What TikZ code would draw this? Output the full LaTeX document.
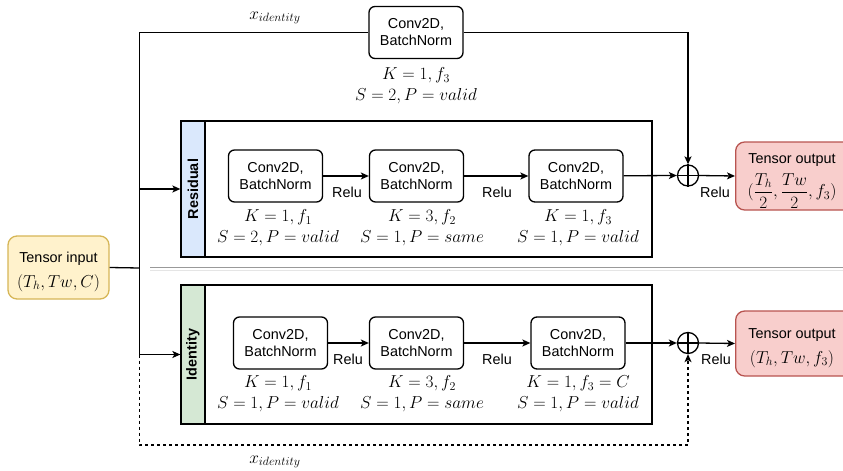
\documentclass[tikz,border=0pt]{standalone}
\usepackage[no-math]{fontspec}
\setmainfont{Liberation Sans}
\usetikzlibrary{arrows.meta}

\definecolor{inFill}{HTML}{FFF2CC}
\definecolor{inLine}{HTML}{D6B656}
\definecolor{outFill}{HTML}{F8CECC}
\definecolor{outLine}{HTML}{B85450}
\definecolor{resFill}{HTML}{DAE8FC}
\definecolor{idFill}{HTML}{D5E8D4}

\newcommand{\txtsize}{\fontsize{14.4}{17}\selectfont}
\newcommand{\mathsz}{\fontsize{17.28}{20}\selectfont}

\tikzset{
  wire/.style={line width=1.3pt},
  arr/.style={wire, -{Stealth[length=8pt,width=7pt,inset=2pt]}},
  convbox/.style={draw, line width=1.3pt, rounded corners=6pt, align=center,
    minimum width=94pt, minimum height=52pt, inner sep=0pt, font=\txtsize},
  params/.style={align=center, inner sep=0pt, font=\mathsz},
  relu/.style={inner sep=0pt, font=\txtsize},
  blockbox/.style={draw, line width=1.3pt, minimum width=471pt, inner sep=0pt},
  strip/.style={draw, line width=1.3pt, minimum width=24pt, inner sep=0pt},
  striptext/.style={rotate=90, font=\txtsize\bfseries, inner sep=0pt},
  tensorbox/.style={draw, line width=1.3pt, rounded corners=9pt, inner sep=0pt},
  tensortext/.style={inner sep=0pt, font=\txtsize},
  sum/.style={draw, circle, line width=1.3pt, minimum size=21pt, inner sep=0pt},
}

\begin{document}
\begin{tikzpicture}[x=1pt,y=-1pt]
\useasboundingbox (0,0) rectangle (843,471);

% input tensor
\node[tensorbox, fill=inFill, draw=inLine, minimum width=101pt, minimum height=63pt]
  (in) at (58.5,267.5) {};
\node[tensortext] (inT) at (58.5,258.5) {Tensor input};
\node[inner sep=0pt, font=\mathsz] (inM) at (58.5,283) {$(T_h,Tw,C)$};

% branch point and routing corner
\coordinate (jn) at (139.5,268);
\coordinate (dl) at (139.5,445);

% shortcut convolution on the top path
\node[convbox] (topconv) at (416,32.5) {Conv2D,\\BatchNorm};
\node[params] (topp) at (416,86) {$K=1, f_3$\\[1pt]$S=2, P=valid$};
\node[font=\mathsz, inner sep=0pt] (xtop) at (275,18) {$x_{identity}$};

% residual block
\node[blockbox, minimum height=136pt] (resbox) at (416.5,189) {};
\node[strip, fill=resFill, minimum height=136pt] (resstrip) at (193,189) {};
\node[striptext] (restext) at (resstrip) {Residual};

\node[convbox] (r1) at (275.5,176) {Conv2D,\\BatchNorm};
\node[convbox] (r2) at (416.5,176) {Conv2D,\\BatchNorm};
\node[convbox] (r3) at (576,176) {Conv2D,\\BatchNorm};
\node[params] (rp1) at (278,228) {$K=1, f_1$\\[1pt]$S=2, P=valid$};
\node[params] (rp2) at (422,228) {$K=3, f_2$\\[1pt]$S=1, P=same$};
\node[params] (rp3) at (578,228) {$K=1, f_3$\\[1pt]$S=1, P=valid$};
\node[relu] (rl1) at (347,192) {Relu};
\node[relu] (rl2) at (497,192) {Relu};

\node[sum] (sumA) at (688,175.5) {};
\draw[wire] (sumA.north) -- (sumA.south) (sumA.west) -- (sumA.east);
\node[relu] (rl3) at (715,192) {Relu};

\node[tensorbox, fill=outFill, draw=outLine, minimum width=120pt, minimum height=68pt,
  anchor=west] (outA) at (735,176) {};
\node[tensortext] (outAt) at (792,160) {Tensor output};
\node[inner sep=0pt, font=\mathsz] (outAm) at (792,191)
  {$(\displaystyle\frac{T_h}{2},\frac{Tw}{2},f_3)$};

% separator between the two block variants
\draw[line width=1.2pt, black!40] (150,267.8) -- (843,267.8);
\draw[line width=1.4pt, black!10] (150,270.5) -- (843,270.5);

% identity block
\node[blockbox, minimum height=139pt] (idbox) at (416.5,354.5) {};
\node[strip, fill=idFill, minimum height=139pt] (idstrip) at (193,354.5) {};
\node[striptext] (idtext) at (idstrip) {Identity};

\node[convbox] (i1) at (280.5,343) {Conv2D,\\BatchNorm};
\node[convbox] (i2) at (416.5,343) {Conv2D,\\BatchNorm};
\node[convbox] (i3) at (578,343) {Conv2D,\\BatchNorm};
\node[params] (ip1) at (278,394) {$K=1, f_1$\\[1pt]$S=1, P=valid$};
\node[params] (ip2) at (422,394) {$K=3, f_2$\\[1pt]$S=1, P=same$};
\node[params] (ip3) at (578,394) {$K=1, f_3=C$\\[1pt]$S=1, P=valid$};
\node[relu] (il1) at (348,359) {Relu};
\node[relu] (il2) at (497,359) {Relu};

\node[sum] (sumB) at (688,343) {};
\draw[wire] (sumB.north) -- (sumB.south) (sumB.west) -- (sumB.east);
\node[relu] (il3) at (716,359) {Relu};

\node[tensorbox, fill=outFill, draw=outLine, minimum width=120pt, minimum height=65pt,
  anchor=west] (outB) at (735,343.5) {};
\node[tensortext] (outBt) at (792,335) {Tensor output};
\node[inner sep=0pt, font=\mathsz] (outBm) at (792,359) {$(T_h,Tw,f_3)$};

\node[font=\mathsz, inner sep=0pt] (xbot) at (275,462) {$x_{identity}$};

% connectors
\draw[wire] (in.east) -- (jn);
\draw[wire] (jn |- idbox.west) -- (jn) |- (topconv.west);
\draw[arr] (topconv.east) -| (sumA.north);
\draw[arr] (jn |- resbox.west) -- (resbox.west);
\draw[arr] (r1) -- (r2);
\draw[arr] (r2) -- (r3);
\draw[arr] (r3) -- (sumA.west);
\draw[arr] (sumA.east) -- (outA.west);

\draw[arr] (jn |- idbox.west) -- (idbox.west);
\draw[arr] (i1) -- (i2);
\draw[arr] (i2) -- (i3);
\draw[arr] (i3) -- (sumB.west);
\draw[arr] (sumB.east) -- (outB.west);
\draw[arr, dash pattern=on 3pt off 3pt] (jn |- idbox.west) -- (dl) -| (sumB.south);
\end{tikzpicture}
\end{document}
